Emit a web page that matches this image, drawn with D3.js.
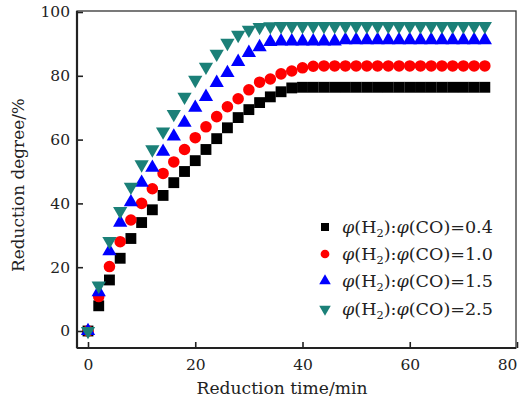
<!DOCTYPE html>
<html><head><meta charset="utf-8">
<script src="https://cdn.jsdelivr.net/npm/d3@7"></script>
<style>body{margin:0;background:#fff}svg{display:block}</style>
</head><body>
<svg id="c" width="519" height="400"></svg>
<script>
const times = d3.range(0, 75, 2);
const s04 = [0,7.9,16,22.8,29,34,38,42.5,46.5,50,53.4,56.9,60.3,63.7,66.9,69.4,71.6,73.4,75,76.2,76.4,76.4,76.4,76.4,76.4,76.4,76.4,76.4,76.4,76.4,76.4,76.4,76.4,76.4,76.4,76.4,76.4,76.4];
const s10 = [0,10.8,20.2,28,34.8,40,44.6,49.4,53,56.9,60.6,64,67.2,70.3,72.8,75.6,78,79,80.6,81.5,82.5,83,83.1,83.1,83.1,83.1,83.1,83.1,83.1,83.1,83.1,83.1,83.1,83.1,83.1,83.1,83.1,83.1];
const s15 = [0,12.2,25,34,40.4,46.5,51.2,56.2,61,65.3,70,73.4,77.8,80.9,84.4,87.2,89,90.6,90.8,90.8,90.8,90.8,90.8,90.8,91.2,91.2,91.2,91.2,91.2,91.2,91.2,91.2,91.2,91.2,91.2,91.2,91.2,91.2];
const s25 = [0,14.2,28.2,37.6,45.2,52.2,56.9,62.5,68,73.4,78.7,82.8,86.9,90.3,92.8,94.4,95.3,95.5,95.6,95.6,95.6,95.6,95.6,95.6,95.6,95.6,95.6,95.6,95.6,95.6,95.6,95.6,95.6,95.6,95.6,95.6,95.6,95.6];
const ratios = ["0.4","1.0","1.5","2.5"];
const xTicks = [0,20,40,60,80];
const yTicks = [0,20,40,60,80,100];

const series = [
  {vals:s04, color:"#000000", shape:"square"},
  {vals:s10, color:"#ff0000", shape:"circle"},
  {vals:s15, color:"#0000ff", shape:"up"},
  {vals:s25, color:"#1b8078", shape:"down"}
];

const L=77, R=516, T=11, B=348;
const x = d3.scaleLinear().domain([0,80]).range([88,517]);
const y = d3.scaleLinear().domain([0,100]).range([331,12]);
const svg = d3.select("#c");
const font = "'DejaVu Serif', 'Liberation Serif', serif";

function sym(shape, size){
  if(shape==="square") return d3.symbol(d3.symbolSquare, size)();
  if(shape==="circle") return d3.symbol(d3.symbolCircle, size)();
  return d3.symbol(d3.symbolTriangle, size)();
}
const sizes = {square:118, circle:105, up:88, down:88};

series.forEach(s=>{
  svg.append("g").selectAll("path").data(times.map((t,i)=>[t,s.vals[i]])).join("path")
    .attr("d", sym(s.shape, sizes[s.shape]))
    .attr("transform", d=>`translate(${x(d[0])},${y(d[1])})${s.shape==="down"?" rotate(180)":""}`)
    .attr("fill", s.color);
});

// axes
const gx = svg.append("g").attr("transform",`translate(0,${B})`)
  .call(d3.axisBottom(x).tickValues(xTicks).tickSizeInner(-6).tickSizeOuter(0).tickPadding(11));
const gy = svg.append("g").attr("transform",`translate(${L},0)`)
  .call(d3.axisLeft(y).tickValues(yTicks).tickSizeInner(-6).tickSizeOuter(0).tickPadding(7));
[gx,gy].forEach(g=>{
  g.select(".domain").remove();
  g.selectAll("line").attr("stroke","#222").attr("stroke-width",1.6);
  g.selectAll("text").attr("font-family",font).attr("font-size",15.5).attr("fill","#222");
});
gx.selectAll(".tick").filter(d=>d===80).select("text").attr("dx",-10);
// frame
svg.append("rect").attr("x",L).attr("y",T).attr("width",R-L).attr("height",B-T)
  .attr("fill","none").attr("stroke","#333").attr("stroke-width",1.3);
svg.append("line").attr("x1",L).attr("x2",R).attr("y1",B).attr("y2",B).attr("stroke","#222").attr("stroke-width",2.2);
svg.append("line").attr("x1",L).attr("x2",L).attr("y1",T).attr("y2",B).attr("stroke","#222").attr("stroke-width",2.2);

function fit(sel, w){
  const n = sel.node(); const fs = +sel.attr("font-size");
  const cur = n.getComputedTextLength();
  if(cur>0) sel.attr("font-size", fs*w/cur);
}
const xl = svg.append("text").attr("x",282).attr("y",394).attr("text-anchor","middle")
  .attr("font-family",font).attr("font-size",17).attr("fill","#222").text("Reduction time/min");
fit(xl,171);
const yl = svg.append("text").attr("transform","translate(24,185) rotate(-90)").attr("text-anchor","middle")
  .attr("font-family",font).attr("font-size",17).attr("fill","#222").text("Reduction degree/%");
fit(yl,174);

// legend
const lg = svg.append("g");
const rowY = [227,254,281,309];
series.forEach((s,i)=>{
  lg.append("path").attr("d", sym(s.shape, s.shape==="circle"?60:s.shape==="square"?64:58))
    .attr("transform",`translate(325,${rowY[i]})${s.shape==="down"?" rotate(180)":""}`)
    .attr("fill",s.color);
  const t = lg.append("text").attr("x",342).attr("y",rowY[i]+6)
    .attr("font-family",font).attr("font-size",17).attr("fill","#222");
  t.append("tspan").attr("font-style","italic").text("φ");
  t.append("tspan").text("(H");
  t.append("tspan").attr("font-size",11).attr("dy",4).text("2");
  t.append("tspan").attr("dy",-4).text("):");
  t.append("tspan").attr("font-style","italic").text("φ");
  t.append("tspan").text("(CO)="+ratios[i]);
  const w = t.node().getComputedTextLength();
  if(w>0){ const k=151/w; t.attr("font-size",17*k); t.selectAll("tspan").filter(function(){return d3.select(this).attr("font-size");}).attr("font-size",11*k); }
});
</script>
</body></html>
